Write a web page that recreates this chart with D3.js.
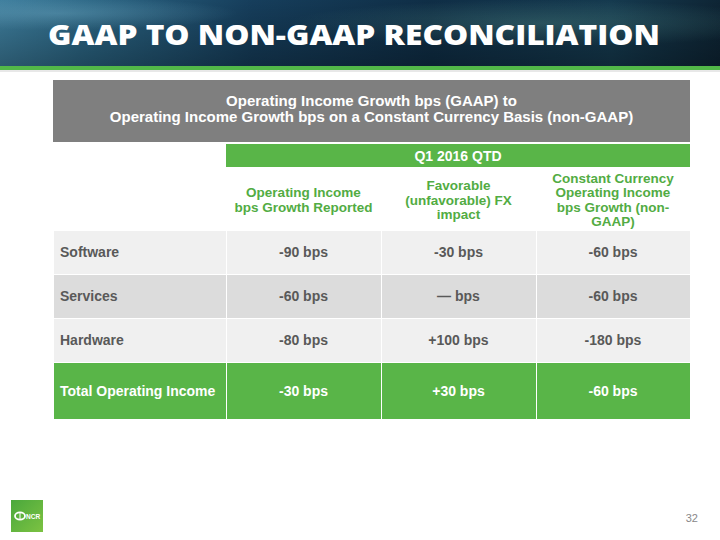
<!DOCTYPE html>
<html><head><meta charset="utf-8">
<script src="https://cdn.jsdelivr.net/npm/d3@7"></script>
<style>body{margin:0;background:#fff}svg{display:block}</style>
</head><body>
<script>
const title = "GAAP TO NON-GAAP RECONCILIATION";
const subtitleLines = ["Operating Income Growth bps (GAAP) to", "Operating Income Growth bps on a Constant Currency Basis (non-GAAP)"];
const periodLabel = "Q1 2016 QTD";
const columnHeaders = [
  ["Operating Income", "bps Growth Reported"],
  ["Favorable", "(unfavorable) FX", "impact"],
  ["Constant Currency", "Operating Income", "bps Growth (non-", "GAAP)"]
];
const categories = ["Software", "Services", "Hardware", "Total Operating Income"];
const reported = [-90, -60, -80, -30];
const fxImpact = [-30, null, 100, 30];
const constantCurrency = [-60, -60, -180, -60];
const pageNumber = "32";

const W = 720, H = 540;
const svg = d3.select("body").append("svg").attr("width", W).attr("height", H);
const defs = svg.append("defs");

// header background
const lg = defs.append("linearGradient").attr("id","hdr").attr("x1","0").attr("x2","1").attr("y1","0").attr("y2","0");
[["0%","#3d7d9c"],["12%","#2b6583"],["35%","#163e5c"],["60%","#0f2e46"],["85%","#153a4f"],["100%","#0e2535"]].forEach(s=>lg.append("stop").attr("offset",s[0]).attr("stop-color",s[1]));
const rg = defs.append("radialGradient").attr("id","glow").attr("cx","0.75").attr("cy","0.35").attr("r","0.35");
rg.append("stop").attr("offset","0%").attr("stop-color","#4f8a8a").attr("stop-opacity",0.45);
rg.append("stop").attr("offset","100%").attr("stop-color","#4f8a8a").attr("stop-opacity",0);
const rg2 = defs.append("radialGradient").attr("id","glow2").attr("cx","0.08").attr("cy","0.2").attr("r","0.25");
rg2.append("stop").attr("offset","0%").attr("stop-color","#6aa8c4").attr("stop-opacity",0.5);
rg2.append("stop").attr("offset","100%").attr("stop-color","#6aa8c4").attr("stop-opacity",0);
const vg = defs.append("linearGradient").attr("id","shade").attr("x1","0").attr("x2","0").attr("y1","0").attr("y2","1");
vg.append("stop").attr("offset","0%").attr("stop-color","#000").attr("stop-opacity",0);
vg.append("stop").attr("offset","100%").attr("stop-color","#000").attr("stop-opacity",0.3);
svg.append("rect").attr("x",0).attr("y",0).attr("width",W).attr("height",67).attr("fill","url(#hdr)");
svg.append("rect").attr("x",0).attr("y",0).attr("width",W).attr("height",67).attr("fill","url(#glow)");
svg.append("rect").attr("x",0).attr("y",0).attr("width",W).attr("height",67).attr("fill","url(#glow2)");
svg.append("rect").attr("x",0).attr("y",0).attr("width",W).attr("height",67).attr("fill","url(#shade)");
svg.append("rect").attr("x",0).attr("y",66).attr("width",W).attr("height",4).attr("fill","#52b848");
svg.append("rect").attr("x",0).attr("y",70).attr("width",W).attr("height",2).attr("fill","#e8e8e8");

svg.append("text").attr("x",48).attr("y",45).text(title)
  .attr("fill","#fff").attr("font-family","'Open Sans', sans-serif").attr("font-weight",800)
  .attr("font-size",28).attr("textLength",612).attr("lengthAdjust","spacingAndGlyphs");

// table geometry
const left = 54, right = 690;
const colEdges = [left, 226, 381, 536, right];
const font = "'Liberation Sans', Arial, sans-serif";

// gray subtitle box
svg.append("rect").attr("x",53).attr("y",80).attr("width",right-53).attr("height",62).attr("fill","#7f7f7f");
svg.selectAll("text.sub").data(subtitleLines).join("text").attr("class","sub")
  .attr("x",(53+right)/2).attr("y",(d,i)=>106+i*15.5).attr("text-anchor","middle")
  .attr("fill","#fff").attr("font-family",font).attr("font-weight","bold").attr("font-size",15).text(d=>d);

// period bar
svg.append("rect").attr("x",colEdges[1]).attr("y",144).attr("width",right-colEdges[1]).attr("height",23).attr("fill","#59b548");
svg.append("text").attr("x",(colEdges[1]+right)/2).attr("y",161).attr("text-anchor","middle")
  .attr("fill","#fff").attr("font-family",font).attr("font-weight","bold").attr("font-size",14).text(periodLabel);

// column headers
const colCenter = i => (colEdges[i+1]+colEdges[i+2])/2;
columnHeaders.forEach((lines,i)=>{
  const lh = 14.5;
  const mid = 199.5;
  const y0 = mid - (lines.length-1)*lh/2 + 5;
  svg.append("g").selectAll("text").data(lines).join("text")
    .attr("x",colCenter(i)).attr("y",(d,j)=>y0+j*lh).attr("text-anchor","middle")
    .attr("fill","#52ac43").attr("font-family",font).attr("font-weight","bold").attr("font-size",13.5)
    .attr("textLength", function(){ return null; })
    .text(d=>d);
});

// rows
const rowTops = [231, 275, 319, 363];
const rowH = [43, 43, 43, 56];
const rowFill = ["#f0f0f0","#dcdcdc","#f0f0f0","#59b548"];
const fmt = v => v === null ? "\u2014 bps" : (v > 0 ? "+" + v : String(v)) + " bps";
const rows = categories.map((c,i)=>({cat:c, vals:[reported[i], fxImpact[i], constantCurrency[i]], i}));
const g = svg.append("g");
rows.forEach(r=>{
  for (let c=0;c<4;c++){
    g.append("rect").attr("x",colEdges[c]+(c?1:0)).attr("y",rowTops[r.i])
      .attr("width",colEdges[c+1]-colEdges[c]-(c?1:0)).attr("height",rowH[r.i]).attr("fill",rowFill[r.i]);
  }
  const cy = rowTops[r.i] + rowH[r.i]/2 + 4 + (r.i===3?1:0);
  const isTotal = r.i === 3;
  const col = isTotal ? "#fff" : "#595959";
  g.append("text").attr("x",60).attr("y",cy).attr("fill",col).attr("font-family",font)
    .attr("font-weight","bold").attr("font-size",14).text(r.cat);
  r.vals.forEach((v,k)=>{
    g.append("text").attr("x",colCenter(k)).attr("y",cy).attr("text-anchor","middle").attr("fill",col)
      .attr("font-family",font).attr("font-weight","bold").attr("font-size",14).text(fmt(v));
  });
});

// logo
const lgg = defs.append("linearGradient").attr("id","logo").attr("x1","0").attr("x2","1").attr("y1","0").attr("y2","1");
lgg.append("stop").attr("offset","0%").attr("stop-color","#4aa83c");
lgg.append("stop").attr("offset","100%").attr("stop-color","#7cc242");
svg.append("rect").attr("x",11).attr("y",500).attr("width",32).attr("height",32).attr("fill","url(#logo)");
svg.append("ellipse").attr("cx",20).attr("cy",516).attr("rx",5).attr("ry",3.6).attr("fill","none").attr("stroke","#fff").attr("stroke-width",1.8);
svg.append("line").attr("x1",20).attr("x2",20).attr("y1",512).attr("y2",520).attr("stroke","#fff").attr("stroke-width",1);
svg.append("text").attr("x",26).attr("y",518.5).attr("fill","#fff").attr("font-family",font).attr("font-weight","bold").attr("font-size",6.5).text("NCR");

svg.append("text").attr("x",698).attr("y",522).attr("text-anchor","end").attr("fill","#888")
  .attr("font-family",font).attr("font-size",11).text(pageNumber);
</script>
</body></html>
